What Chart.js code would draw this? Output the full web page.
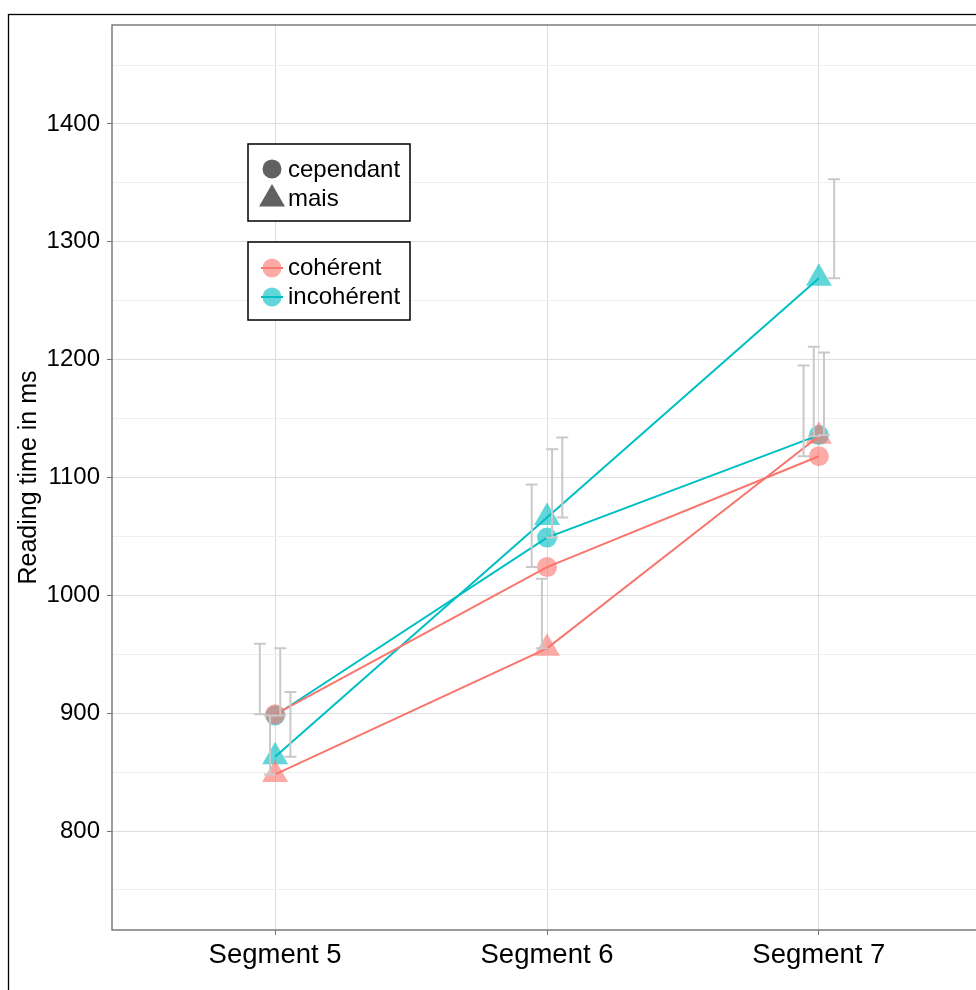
<!DOCTYPE html>
<html>
<head>
<meta charset="utf-8">
<script src="https://cdn.jsdelivr.net/npm/chart.js@4/dist/chart.umd.min.js"></script>
<style>
  html, body { margin: 0; padding: 0; background: #fff; overflow: hidden; }
  #wrap { position: relative; width: 976px; height: 990px; overflow: hidden; }
  #c { display: block; }
</style>
</head>
<body>
<div id="wrap"><canvas id="c" width="990" height="990"></canvas></div>
<script>
// Reading times (ms) per segment, split by connector and coherence
const categories = ['Segment 5', 'Segment 6', 'Segment 7'];
const connectors = ['cependant', 'mais'];
const coherence = ['cohérent', 'incohérent'];

const cohCependant   = [899, 1024, 1118];
const cohMais        = [848, 955, 1135];
const incohCependant = [898, 1049, 1136];
const incohMais      = [863, 1066, 1269];

// upper ends of the error bars (each bar runs from the mean up to this value)
const cohCependantUpper   = [959, 1094, 1195];
const cohMaisUpper        = [898, 1014, 1211];
const incohCependantUpper = [955, 1124, 1206];
const incohMaisUpper      = [918, 1134, 1353];

const yMajorTicks = [800, 900, 1000, 1100, 1200, 1300, 1400];
const yMinorTicks = [750, 850, 950, 1050, 1150, 1250, 1350, 1450];

const RED = '#F8766D', CYAN = '#00BFC4';
const ALPHA = 0.62;
const redFill = 'rgba(248,118,109,' + ALPHA + ')';
const cyanFill = 'rgba(0,191,196,' + ALPHA + ')';
const FONT = "'Liberation Sans', Arial, Helvetica, sans-serif";
const CIRCLE_R = 10, TRIANGLE_R = 15;

const series = [
  { mean: cohCependant,   upper: cohCependantUpper,   color: RED,  fill: redFill,  shape: 'circle' },
  { mean: cohMais,        upper: cohMaisUpper,        color: RED,  fill: redFill,  shape: 'triangle' },
  { mean: incohCependant, upper: incohCependantUpper, color: CYAN, fill: cyanFill, shape: 'circle' },
  { mean: incohMais,      upper: incohMaisUpper,      color: CYAN, fill: cyanFill, shape: 'triangle' }
];
const dodge = [-0.05625, -0.01875, 0.01875, 0.05625];

const toXY = arr => arr.map((v, i) => ({ x: i + 1, y: v }));

const datasets = [];
series.forEach(s => {
  datasets.push({
    data: toXY(s.mean), showLine: false, order: 2,
    pointStyle: s.shape, pointRadius: s.shape === 'circle' ? CIRCLE_R : TRIANGLE_R,
    pointBackgroundColor: s.fill, pointBorderWidth: 0, pointHoverRadius: 0
  });
  datasets.push({
    data: toXY(s.mean), order: 1, pointRadius: 0, pointHoverRadius: 0,
    borderColor: s.color, borderWidth: 2, tension: 0, fill: false
  });
});

// the plotting panel runs past the right edge of the page
const PANEL_RIGHT = 982;

const decorations = {
  id: 'decorations',
  afterLayout(chart) {
    const a = chart.chartArea;
    a.right = PANEL_RIGHT;
    a.width = a.right - a.left;
    const x = chart.scales.x;
    x.right = PANEL_RIGHT;
    x.width = x.right - x.left;
    x.configure();
    x._labelItems = null;
    x._gridLineItems = null;
    chart.scales.y._gridLineItems = null;
  },
  beforeDraw(chart) {
    const ctx = chart.ctx;
    ctx.save();
    ctx.fillStyle = '#fff';
    ctx.fillRect(0, 0, chart.width, chart.height);
    ctx.restore();
  },
  afterDatasetsDraw(chart) {
    const { ctx, chartArea: a, scales: { x, y } } = chart;
    // error bars
    ctx.save();
    ctx.strokeStyle = '#C9C9C9';
    ctx.lineWidth = 2;
    const cap = 6;
    series.forEach((s, k) => {
      s.mean.forEach((m, i) => {
        const px = x.getPixelForValue(i + 1 + dodge[k]);
        const y0 = y.getPixelForValue(m);
        const y1 = y.getPixelForValue(s.upper[i]);
        ctx.beginPath();
        ctx.moveTo(px, y0); ctx.lineTo(px, y1);
        ctx.moveTo(px - cap, y0); ctx.lineTo(px + cap, y0);
        ctx.moveTo(px - cap, y1); ctx.lineTo(px + cap, y1);
        ctx.stroke();
      });
    });
    ctx.restore();
    // panel border
    ctx.save();
    ctx.strokeStyle = '#737373';
    ctx.lineWidth = 1.4;
    ctx.strokeRect(a.left, a.top, a.right - a.left, a.bottom - a.top);
    ctx.restore();
  },
  afterDraw(chart) {
    const ctx = chart.ctx;
    const helpers = Chart.helpers;
    ctx.save();
    // outer frame
    ctx.strokeStyle = '#000';
    ctx.lineWidth = 1.3;
    ctx.strokeRect(8.5, 14.5, 3000, 3000);

    // legend boxes
    const boxes = [
      { top: 144, h: 77 },
      { top: 242, h: 78 }
    ];
    boxes.forEach(b => {
      ctx.fillStyle = '#fff';
      ctx.fillRect(248, b.top, 162, b.h);
      ctx.strokeStyle = '#000';
      ctx.lineWidth = 1.5;
      ctx.strokeRect(248, b.top, 162, b.h);
    });
    ctx.font = '24px ' + FONT;
    ctx.textBaseline = 'middle';
    ctx.textAlign = 'left';
    const gray = 'rgba(0,0,0,' + ALPHA + ')';
    // shape keys
    ctx.fillStyle = gray;
    helpers.drawPoint(ctx, { pointStyle: 'circle', radius: 9.5, borderWidth: 0 }, 272, 169);
    helpers.drawPoint(ctx, { pointStyle: 'triangle', radius: 15, borderWidth: 0 }, 272, 199);
    ctx.fillStyle = '#000';
    ctx.fillText(connectors[0], 288, 170);
    ctx.fillText(connectors[1], 288, 199);
    // colour keys
    [[redFill, RED, 268], [cyanFill, CYAN, 297]].forEach(([f, c, yy]) => {
      ctx.fillStyle = f;
      helpers.drawPoint(ctx, { pointStyle: 'circle', radius: 9.5, borderWidth: 0 }, 272, yy);
      ctx.strokeStyle = c;
      ctx.lineWidth = 2;
      ctx.beginPath(); ctx.moveTo(261, yy); ctx.lineTo(283, yy); ctx.stroke();
    });
    ctx.fillStyle = '#000';
    ctx.fillText(coherence[0], 288, 268);
    ctx.fillText(coherence[1], 288, 297);
    ctx.restore();
  }
};

new Chart(document.getElementById('c'), {
  type: 'line',
  data: { datasets },
  options: {
    responsive: false,
    animation: false,
    devicePixelRatio: 1,
    layout: { padding: { top: 25, right: 8, left: 0, bottom: 0 } },
    plugins: { legend: { display: false }, tooltip: { enabled: false } },
    events: [],
    scales: {
      x: {
        type: 'linear', min: 0.4, max: 3.6,
        afterBuildTicks: s => { s.ticks = categories.map((c, i) => ({ value: i + 1 })); },
        afterFit: s => { s.height = 60; },
        border: { display: false },
        grid: { color: '#DDDDDD', lineWidth: 1, tickLength: 5, tickColor: '#737373', drawTicks: true },
        ticks: {
          autoSkip: false, maxRotation: 0, padding: 4,
          color: '#000', font: { family: FONT, size: 27.5 },
          callback: v => categories[v - 1]
        }
      },
      y: {
        type: 'linear', min: 716, max: 1484,
        afterBuildTicks: s => {
          s.ticks = yMinorTicks.concat(yMajorTicks).sort((p, q) => p - q).map(v => ({ value: v }));
        },
        afterFit: s => { s.width = 112; },
        border: { display: false },
        grid: {
          color: c => (yMajorTicks.includes(c.tick.value) ? '#DDDDDD' : '#F0F0F0'),
          lineWidth: 1, tickLength: 5,
          tickColor: c => (yMajorTicks.includes(c.tick.value) ? '#737373' : 'rgba(0,0,0,0)')
        },
        ticks: {
          autoSkip: false, padding: 7, color: '#000',
          font: { family: FONT, size: 24 },
          callback: v => (yMajorTicks.includes(v) ? String(v) : '')
        },
        title: {
          display: true, text: 'Reading time in ms', color: '#000',
          font: { family: FONT, size: 25 }, padding: { top: 14, bottom: 0 }
        }
      }
    }
  },
  plugins: [decorations]
});
</script>
</body>
</html>
